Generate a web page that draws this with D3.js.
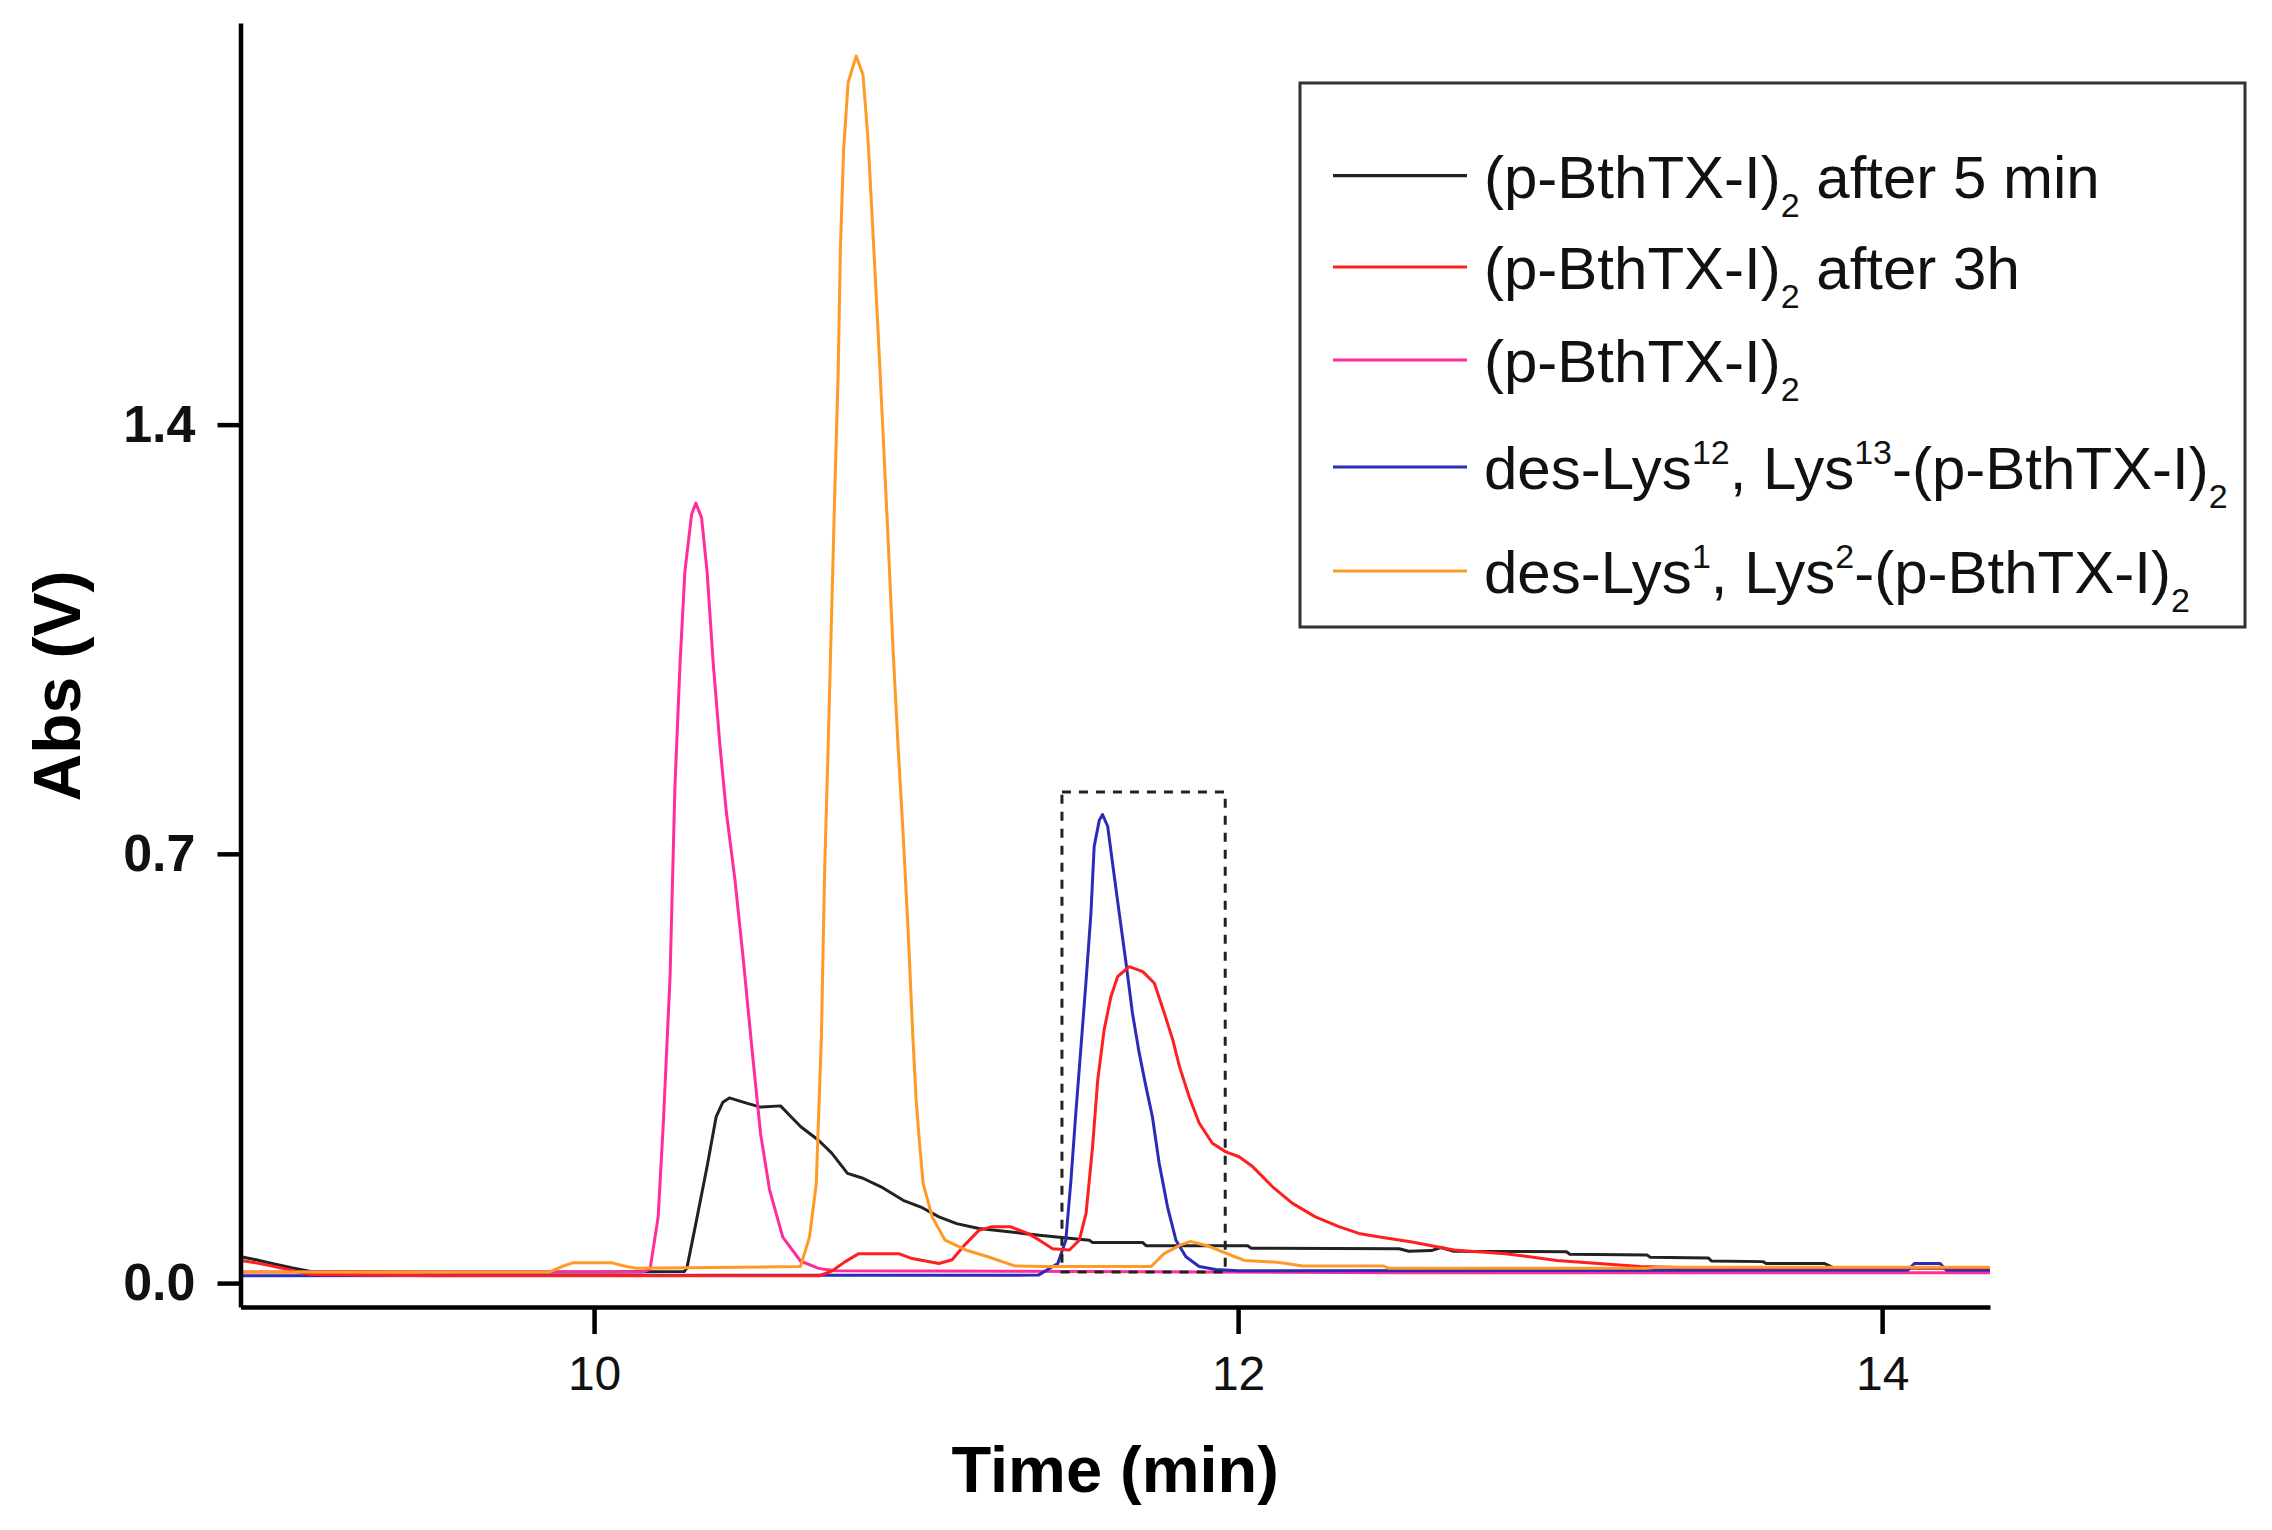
<!DOCTYPE html>
<html>
<head>
<meta charset="utf-8">
<script src="https://cdn.jsdelivr.net/npm/d3@7"></script>
<style>
  body { margin: 0; background: #fff; }
  svg text { font-family: 'Liberation Sans', Arial, sans-serif; }
</style>
</head>
<body>
<div id="graf"></div>
<script>
// chromatogram traces, [time (min), abs (V)]
const after5min = [[8.904,0.043],[8.95,0.038],[9.0,0.032],[9.06,0.025],[9.12,0.019],[9.5,0.018],[10.0,0.018],[10.28,0.019],[10.288,0.024],[10.316,0.097],[10.351,0.19],[10.379,0.271],[10.40,0.295],[10.42,0.302],[10.476,0.293],[10.517,0.287],[10.579,0.289],[10.61,0.272],[10.642,0.255],[10.697,0.233],[10.738,0.212],[10.787,0.179],[10.835,0.171],[10.891,0.157],[10.96,0.135],[11.015,0.124],[11.071,0.108],[11.126,0.097],[11.195,0.089],[11.333,0.081],[11.383,0.078],[11.538,0.07],[11.548,0.066],[11.704,0.066],[11.714,0.061],[12.03,0.061],[12.04,0.057],[12.5,0.056],[12.53,0.052],[12.6,0.053],[12.63,0.058],[12.67,0.052],[13.02,0.051],[13.03,0.047],[13.27,0.046],[13.28,0.042],[13.46,0.041],[13.47,0.036],[13.63,0.035],[13.64,0.032],[13.82,0.032],[13.85,0.025],[14.335,0.024]]

const after3h = [[8.904,0.037],[8.95,0.033],[9.0,0.028],[9.12,0.014],[9.5,0.012],[10.0,0.012],[10.70,0.012],[10.74,0.02],[10.78,0.035],[10.822,0.048],[10.946,0.048],[10.988,0.04],[11.071,0.032],[11.112,0.038],[11.154,0.064],[11.195,0.086],[11.236,0.092],[11.292,0.092],[11.347,0.081],[11.383,0.07],[11.424,0.056],[11.476,0.054],[11.507,0.07],[11.528,0.114],[11.548,0.222],[11.564,0.331],[11.584,0.413],[11.605,0.467],[11.626,0.5],[11.662,0.516],[11.704,0.508],[11.74,0.489],[11.771,0.44],[11.797,0.397],[11.818,0.353],[11.848,0.304],[11.879,0.261],[11.92,0.228],[11.962,0.214],[12.003,0.206],[12.045,0.19],[12.107,0.157],[12.169,0.13],[12.24,0.108],[12.313,0.092],[12.375,0.081],[12.43,0.076],[12.54,0.067],[12.67,0.054],[12.83,0.048],[12.99,0.037],[13.14,0.031],[13.25,0.027],[13.4,0.025],[14.335,0.025]]

const dimer = [[8.904,0.018],[10.0,0.018],[10.15,0.018],[10.174,0.023],[10.199,0.108],[10.215,0.26],[10.236,0.5],[10.251,0.808],[10.267,1.011],[10.282,1.16],[10.303,1.254],[10.316,1.272],[10.334,1.248],[10.351,1.16],[10.37,1.011],[10.391,0.876],[10.411,0.767],[10.437,0.66],[10.463,0.53],[10.489,0.389],[10.517,0.244],[10.545,0.152],[10.586,0.075],[10.641,0.036],[10.697,0.024],[10.75,0.02],[11.5,0.019],[12.5,0.017],[13.03,0.017],[14.335,0.017]]

const desLys12 = [[8.904,0.012],[11.38,0.013],[11.44,0.032],[11.465,0.07],[11.481,0.168],[11.496,0.277],[11.512,0.385],[11.528,0.494],[11.543,0.603],[11.553,0.712],[11.569,0.755],[11.579,0.764],[11.595,0.745],[11.61,0.685],[11.631,0.603],[11.652,0.522],[11.672,0.44],[11.693,0.375],[11.714,0.32],[11.734,0.271],[11.755,0.195],[11.781,0.124],[11.807,0.07],[11.838,0.043],[11.879,0.027],[11.93,0.022],[12.0,0.02],[14.08,0.021],[14.1,0.032],[14.18,0.032],[14.2,0.021],[14.335,0.021]]

const desLys1 = [[8.904,0.018],[9.86,0.018],[9.9,0.027],[9.934,0.033],[10.056,0.033],[10.1,0.027],[10.135,0.024],[10.641,0.027],[10.669,0.075],[10.69,0.162],[10.706,0.402],[10.716,0.673],[10.727,0.876],[10.737,1.078],[10.747,1.281],[10.758,1.484],[10.765,1.687],[10.775,1.849],[10.789,1.958],[10.814,2.001],[10.835,1.971],[10.851,1.863],[10.866,1.714],[10.882,1.552],[10.897,1.39],[10.913,1.214],[10.928,1.038],[10.944,0.876],[10.959,0.74],[10.975,0.578],[10.99,0.402],[11.0,0.3],[11.011,0.226],[11.022,0.162],[11.05,0.108],[11.09,0.07],[11.154,0.054],[11.223,0.043],[11.306,0.028],[11.4,0.027],[11.73,0.027],[11.77,0.048],[11.82,0.062],[11.852,0.068],[11.91,0.06],[11.98,0.045],[12.02,0.037],[12.12,0.034],[12.15,0.032],[12.2,0.028],[12.45,0.028],[12.47,0.024],[13.27,0.024],[13.3,0.026],[14.335,0.026]]

// legend labels: [text, 'sub' | 'sup' | undefined]
const labels = [
  [['(p-BthTX-I)'], ['2', 'sub'], [' after 5 min']],
  [['(p-BthTX-I)'], ['2', 'sub'], [' after 3h']],
  [['(p-BthTX-I)'], ['2', 'sub']],
  [['des-Lys'], ['12', 'sup'], [', Lys'], ['13', 'sup'], ['-(p-BthTX-I)'], ['2', 'sub']],
  [['des-Lys'], ['1', 'sup'], [', Lys'], ['2', 'sup'], ['-(p-BthTX-I)'], ['2', 'sub']],
]
const colores = ['#222222', '#ff1f1f', '#ff2d9b', '#2b2bb8', '#ff9a26']
const legendRows = [175.7, 267, 360, 467, 571]

const xTicks = [10, 12, 14]
const yTicks = [0.0, 0.7, 1.4]

// dashed box around the blue peak
const box = { t0: 11.453, t1: 11.96, v0: 0.018, v1: 0.801 }

const anchoTotal = 2272
const altoTotal = 1530

const svg = d3.select('#graf')
  .append('svg')
  .attr('width', anchoTotal)
  .attr('height', altoTotal)

svg.append('rect')
  .attr('width', anchoTotal)
  .attr('height', altoTotal)
  .attr('fill', '#fff')

const x = d3.scaleLinear()
  .domain([8.902, 14.335])
  .range([240.5, 1990])

const y = d3.scaleLinear()
  .domain([-0.039, 2.055])
  .range([1307, 23])

const series = [after5min, after3h, dimer, desLys12, desLys1]
const order = [0, 2, 3, 1, 4]

const line = d3.line()
  .x(d => x(d[0]))
  .y(d => y(d[1]))

svg.append('g')
  .selectAll('path')
  .data(order)
  .enter()
  .append('path')
    .attr('d', i => line(series[i]))
    .attr('fill', 'none')
    .attr('stroke', i => colores[i])
    .attr('stroke-width', 3)
    .attr('stroke-linejoin', 'round')

svg.append('rect')
  .attr('x', x(box.t0))
  .attr('y', y(box.v1))
  .attr('width', x(box.t1) - x(box.t0))
  .attr('height', y(box.v0) - y(box.v1))
  .attr('fill', 'none')
  .attr('stroke', '#222')
  .attr('stroke-width', 3)
  .attr('stroke-dasharray', '9 8')

// ejes
const xAxisGroup = svg.append('g')
  .attr('transform', `translate(0, ${y.range()[0]})`)
  .call(d3.axisBottom(x)
    .tickValues(xTicks)
    .tickSize(27)
    .tickSizeOuter(0)
    .tickPadding(22)
    .tickFormat(d3.format('d')))

xAxisGroup.selectAll('text')
  .attr('font-size', 48)
  .attr('fill', '#111')

const yAxisGroup = svg.append('g')
  .attr('transform', `translate(${x.range()[0]}, 0)`)
  .call(d3.axisLeft(y)
    .tickValues(yTicks)
    .tickSize(23)
    .tickSizeOuter(0)
    .tickPadding(22)
    .tickFormat(d3.format('.1f')))

yAxisGroup.selectAll('text')
  .attr('font-size', 52)
  .attr('font-weight', 'bold')
  .attr('fill', '#111')

svg.selectAll('.domain, .tick line')
  .attr('stroke', '#000')
  .attr('stroke-width', 4.5)

svg.append('text')
  .attr('x', (x.range()[0] + x.range()[1]) / 2)
  .attr('y', 1492)
  .attr('text-anchor', 'middle')
  .attr('font-size', 65)
  .attr('font-weight', 'bold')
  .text('Time (min)')

svg.append('text')
  .attr('transform', 'translate(80, 686) rotate(-90)')
  .attr('text-anchor', 'middle')
  .attr('font-size', 66)
  .attr('font-weight', 'bold')
  .text('Abs (V)')

// leyenda
const leg = svg.append('g')

leg.append('rect')
  .attr('x', 1300)
  .attr('y', 83)
  .attr('width', 945)
  .attr('height', 544)
  .attr('fill', '#fff')
  .attr('stroke', '#333')
  .attr('stroke-width', 3)

legendRows.forEach((ry, i) => {
  leg.append('line')
    .attr('x1', 1333)
    .attr('x2', 1467)
    .attr('y1', ry)
    .attr('y2', ry)
    .attr('stroke', colores[i])
    .attr('stroke-width', 3.2)

  const txt = leg.append('text')
    .attr('x', 1484)
    .attr('y', ry + 22)
    .attr('font-size', 60)
    .attr('fill', '#111')

  let shift = 0
  labels[i].forEach(([s, kind]) => {
    const target = kind === 'sub' ? 19 : kind === 'sup' ? -25 : 0
    txt.append('tspan')
      .attr('dy', target - shift)
      .attr('font-size', kind ? 34 : 60)
      .text(s)
    shift = target
  })
})
</script>
</body>
</html>
